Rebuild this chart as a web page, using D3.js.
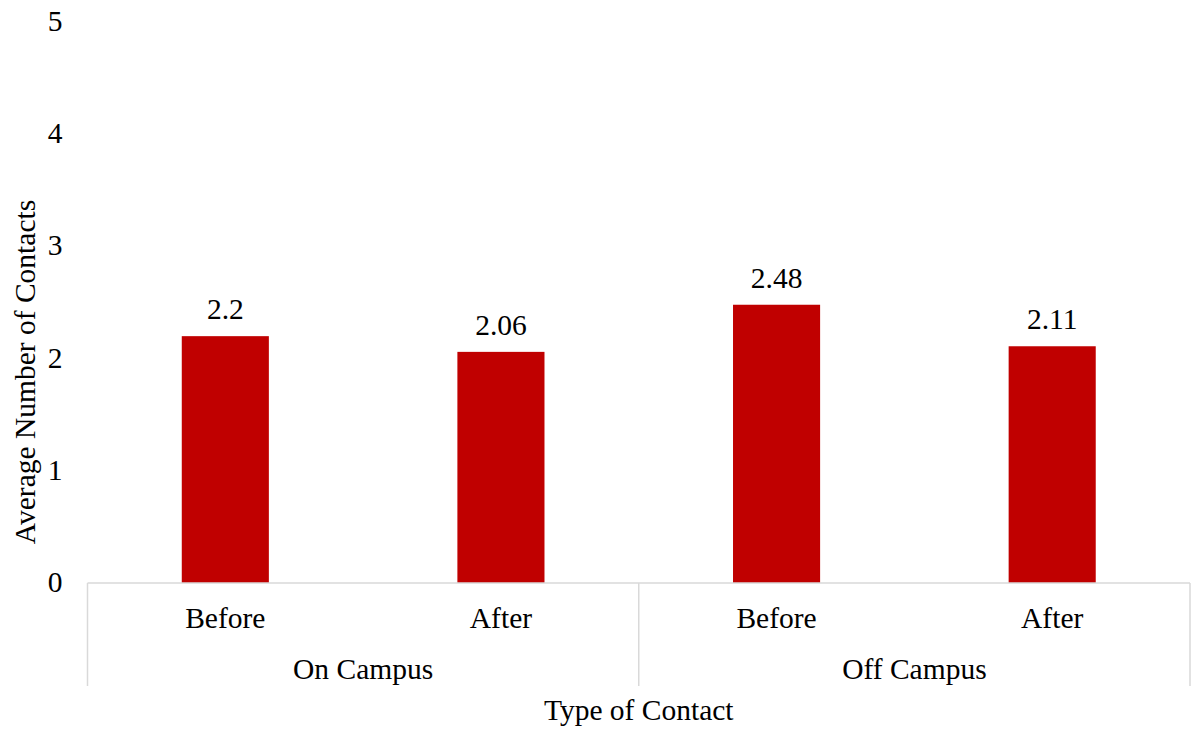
<!DOCTYPE html>
<html><head><meta charset="utf-8">
<script src="https://cdn.jsdelivr.net/npm/d3@7"></script>
<style>body{margin:0;background:#fff}</style>
</head><body>
<svg id="c" width="1193" height="730"></svg>
<script>
const groups = ["On Campus", "Off Campus"];
const periods = ["Before", "After"];
const categories = ["On Campus|Before", "On Campus|After", "Off Campus|Before", "Off Campus|After"];
const values = [2.2, 2.06, 2.48, 2.11];
const valueLabels = ["2.2", "2.06", "2.48", "2.11"];
const yTicks = [0, 1, 2, 3, 4, 5];

const svg = d3.select("#c");
const font = "'Liberation Serif','Times New Roman',serif";
const fs = 29.5;
const left = 87.5, right = 1190, y0 = 583, yTop = 22;
const x = d3.scaleBand().domain(categories).range([left, right]).paddingInner(0.684).paddingOuter(0.342);
const y = d3.scaleLinear().domain([0, 5]).range([y0, yTop]);

svg.selectAll("rect.bar").data(values).enter().append("rect")
  .attr("x", (d, i) => x(categories[i])).attr("width", x.bandwidth())
  .attr("y", d => y(d)).attr("height", d => y(0) - y(d)).attr("fill", "#c00000");

svg.selectAll("text.vl").data(values).enter().append("text")
  .attr("x", (d, i) => x(categories[i]) + x.bandwidth() / 2).attr("y", d => y(d) - 17)
  .attr("text-anchor", "middle").attr("font-family", font).attr("font-size", fs).attr("fill", "#000")
  .text((d, i) => valueLabels[i]);

svg.selectAll("text.yt").data(yTicks).enter().append("text")
  .attr("x", 55).attr("y", d => y(d) + 9)
  .attr("text-anchor", "middle").attr("font-family", font).attr("font-size", fs).attr("fill", "#000")
  .text(d => d);

const lc = "#d9d9d9";
svg.append("line").attr("x1", left).attr("x2", right).attr("y1", y0).attr("y2", y0).attr("stroke", lc).attr("stroke-width", 1.5);
const step = x.step();
const dividers = [left, left + 2 * step, right];
svg.selectAll("line.div").data(dividers).enter().append("line")
  .attr("x1", d => d).attr("x2", d => d).attr("y1", y0).attr("y2", 686).attr("stroke", lc).attr("stroke-width", 1.5);

svg.selectAll("text.cat").data(categories).enter().append("text")
  .attr("x", d => x(d) + x.bandwidth() / 2).attr("y", 628)
  .attr("text-anchor", "middle").attr("font-family", font).attr("font-size", fs).attr("fill", "#000")
  .text(d => d.split("|")[1]);

svg.selectAll("text.grp").data(groups).enter().append("text")
  .attr("x", (d, i) => left + step * (2 * i + 1)).attr("y", 679)
  .attr("text-anchor", "middle").attr("font-family", font).attr("font-size", fs).attr("fill", "#000")
  .text(d => d);

svg.append("text").attr("x", (left + right) / 2).attr("y", 720)
  .attr("text-anchor", "middle").attr("font-family", font).attr("font-size", fs).attr("fill", "#000")
  .text("Type of Contact");

svg.append("text").attr("transform", "translate(35,372) rotate(-90)")
  .attr("text-anchor", "middle").attr("font-family", font).attr("font-size", fs).attr("fill", "#000")
  .text("Average Number of Contacts");
</script>
</body></html>
